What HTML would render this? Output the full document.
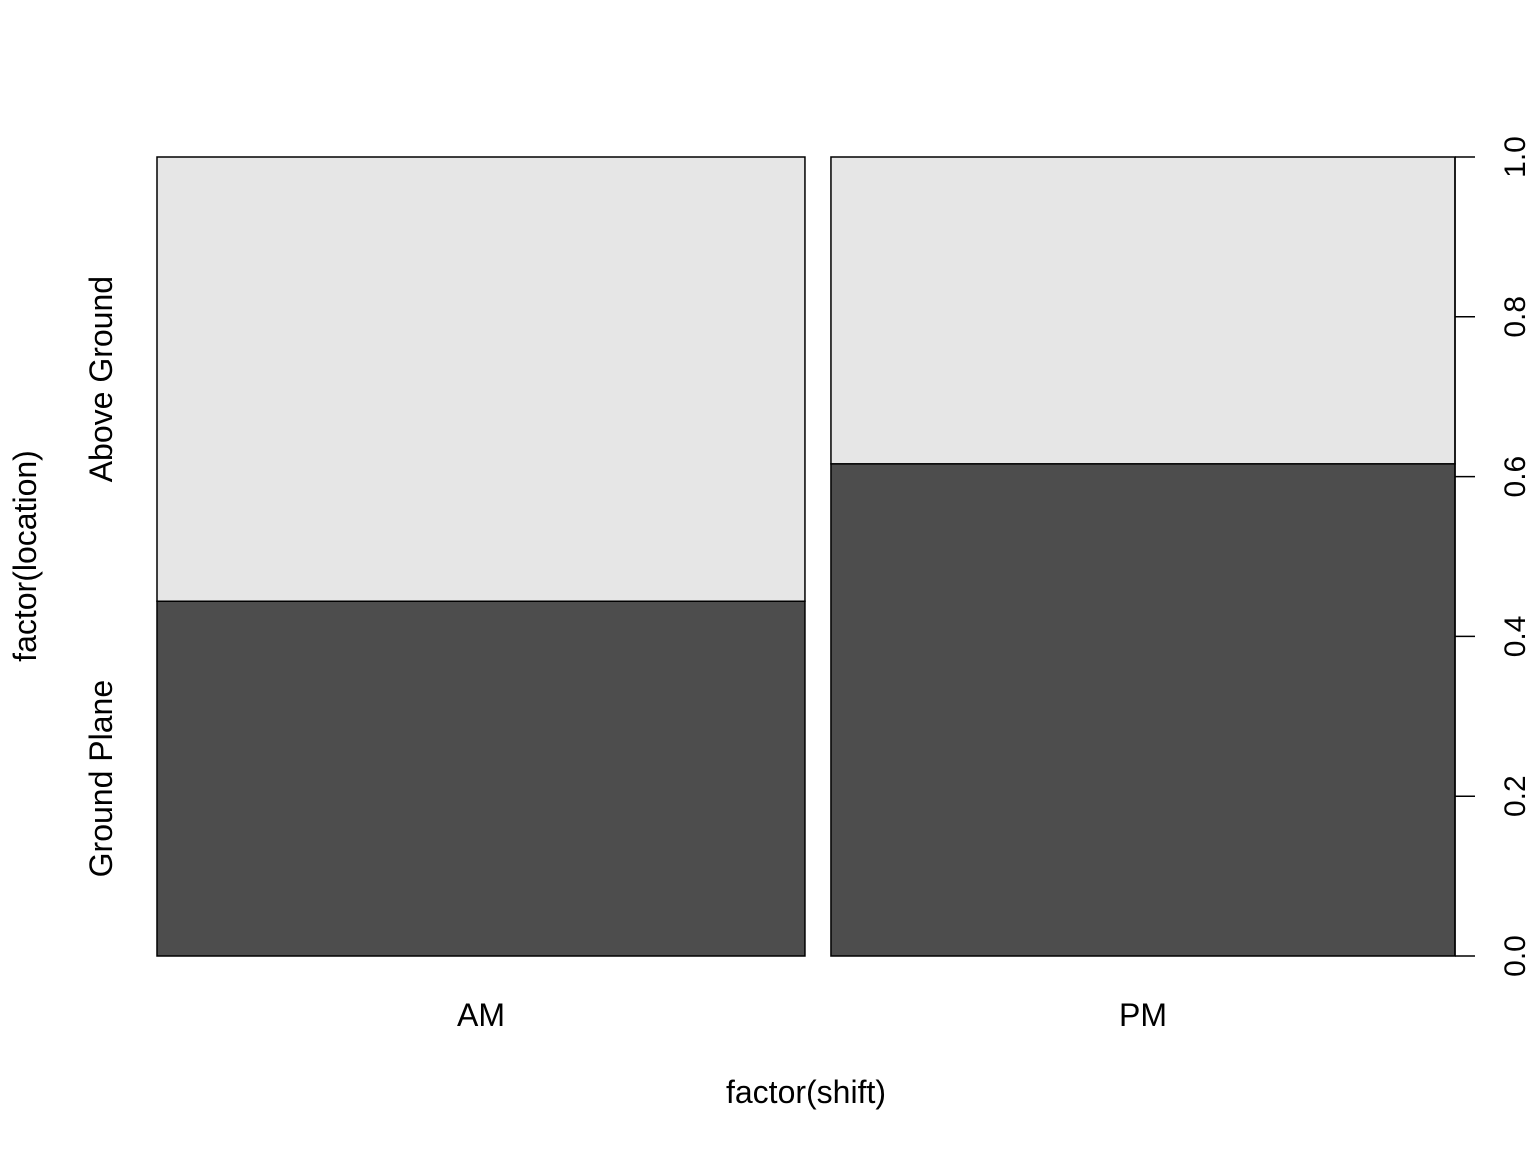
<!DOCTYPE html>
<html><head><meta charset="utf-8"><style>
html,body{margin:0;padding:0;background:#fff}
svg text{font-family:"Liberation Sans",Arial,sans-serif;fill:#000}
</style></head><body>
<svg id="chart" width="1536" height="1152" xmlns="http://www.w3.org/2000/svg">
<g id="bars"></g>
<g id="axis"></g>
<text x="806" y="1103" font-size="32" text-anchor="middle">factor(shift)</text>
<text transform="translate(36,556) rotate(-90)" font-size="32" text-anchor="middle">factor(location)</text>
</svg>
<script>
const categories = ["AM", "PM"];
const shiftShares = [0.5094, 0.4906];
const groundPlane = [0.444, 0.616];
const levels = ["Ground Plane", "Above Ground"];
const tickValues = [0, 0.2, 0.4, 0.6, 0.8, 1.0];
const tickLabels = ["0.0", "0.2", "0.4", "0.6", "0.8", "1.0"];

const NS = "http://www.w3.org/2000/svg";
const X0 = 157, X1 = 1455, GAP = 26, Y0 = 956, Y1 = 157;
const yScale = v => Y0 - v * (Y0 - Y1);
const usable = (X1 - X0) - GAP * (categories.length - 1);
function mk(tag, attrs, parent) {
  const e = document.createElementNS(NS, tag);
  for (const k in attrs) e.setAttribute(k, attrs[k]);
  parent.appendChild(e);
  return e;
}
const bars = document.getElementById("bars");
let x = X0;
categories.forEach((c, i) => {
  const w = shiftShares[i] * usable;
  const ySplit = yScale(groundPlane[i]);
  const r1 = mk("rect", {x: x, y: ySplit, width: w, height: Y0 - ySplit, fill: "#4d4d4d", stroke: "#000", "stroke-width": 1.5}, bars);
  
  
  const r2 = mk("rect", {x: x, y: Y1, width: w, height: ySplit - Y1, fill: "#e6e6e6", stroke: "#000", "stroke-width": 1.5}, bars);
  
  
  const t = mk("text", {x: x + w / 2, y: 1026, "font-size": 32, "text-anchor": "middle"}, bars);
  t.textContent = c;
  
  
  x += w + GAP;
});
const g0 = groundPlane[0];
const lv = [[levels[0], (yScale(0) + yScale(g0)) / 2], [levels[1], (yScale(g0) + yScale(1)) / 2]];
lv.forEach(([name, yc]) => {
  const t = mk("text", {transform: `translate(112,${yc}) rotate(-90)`, "font-size": 32, "text-anchor": "middle"}, bars);
  t.textContent = name;
  
  
});
const axis = document.getElementById("axis");
const al = mk("line", {x1: X1, x2: X1, y1: yScale(0), y2: yScale(1), stroke: "#000", "stroke-width": 1.5}, axis);


tickValues.forEach((v, i) => {
  const y = yScale(v);
  const l = mk("line", {x1: X1, x2: X1 + 20, y1: y, y2: y, stroke: "#000", "stroke-width": 1.5}, axis);
  
  
  const t = mk("text", {transform: `translate(1525,${y}) rotate(-90)`, "font-size": 30, "text-anchor": "middle"}, axis);
  t.textContent = tickLabels[i];
  
  
});
</script>
</body></html>
